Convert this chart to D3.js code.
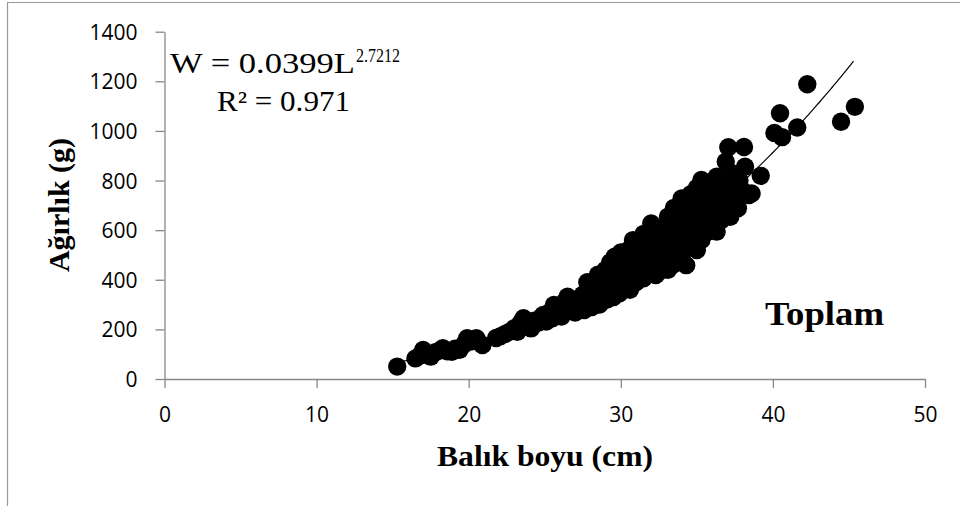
<!DOCTYPE html>
<html><head><meta charset="utf-8">
<script src="https://cdn.jsdelivr.net/npm/d3@7"></script>
<style>body{margin:0;background:#fff;} svg{display:block}</style>
</head><body><svg id="c" width="960" height="506"></svg>
<script>
// Balık boyu (cm)
const boyu = [
 15.3,16.5,16.8,17.0,17.2,17.5,17.8,18.1,18.3,18.6,18.9,19.1,19.4,19.7,19.9,20.2,20.5,20.9,
 21.8,22.1,22.4,22.7,23.0,23.2,23.4,23.6,23.9,24.1,24.3,24.6,24.8,
 24.9,25.1,25.3,25.5,25.6,25.8,26.0,26.1,26.3,26.5,26.6,26.8,27.0,27.1,27.3,27.5,27.6,
 27.8,27.9,28.0,28.1,28.3,28.4,28.5,28.6,28.8,28.9,29.0,29.1,29.2,29.3,29.4,29.5,29.5,
 29.6,29.7,29.8,29.9,30.0,30.0,30.1,30.2,30.3,30.4,30.5,30.6,30.6,30.7,30.8,30.8,30.9,31.0,31.1,31.2,31.2,31.3,31.4,31.5,31.5,31.6,
 31.7,31.8,31.9,32.0,32.0,32.1,32.2,32.3,32.4,32.5,32.6,32.7,32.8,32.9,33.0,33.1,33.1,33.2,33.3,33.4,33.5,33.5,33.6,
 33.7,33.8,33.9,34.0,34.0,34.1,34.2,34.3,34.4,34.4,34.5,34.6,34.7,34.8,34.9,35.0,35.0,35.1,35.2,35.3,35.3,35.4,35.5,
 35.6,35.7,35.8,35.9,36.0,36.1,36.2,36.3,36.3,36.4,36.5,36.6,36.7,36.8,36.9,37.0,37.07,37.1,37.2,37.3,37.5,37.6,37.7,37.8,38.1,38.17,38.43,38.0,38.6,
 39.2,40.1,40.6,40.47,41.6,42.26,44.48,45.39
];
// Ağırlık (g)
const agirlik = [
 50,83,95,117,100,90,108,115,124,112,110,122,118,140,164,152,164,137,
 165,173,182,191,205,190,225,245,215,204,235,228,250,
 258,232,268,245,298,262,285,252,310,332,275,300,268,320,290,340,278,
 390,315,355,290,380,330,420,300,365,400,440,320,380,470,350,415,330,
 493,380,455,345,510,420,370,475,440,395,520,460,360,420,560,490,440,390,535,470,420,505,445,585,406,480,
 545,460,430,627,510,570,480,419,545,460,610,515,440,575,490,654,440,610,535,460,690,575,500,
 640,545,600,728,480,670,570,459,700,620,530,745,650,580,700,770,520,620,680,802,560,730,650,
 590,770,700,620,790,740,660,815,594,700,770,640,735,800,876,700,934,760,654,830,750,700,688,800,935,856,742,760,748,
 819,992,975,1071,1014,1188,1037,1097
];
const xTicks = [0,10,20,30,40,50];
const yTicks = [0,200,400,600,800,1000,1200,1400];
const fitA = 0.0399, fitB = 2.7212;
const eqText = "W = 0.0399L", eqExp = "2.7212", r2Text = "R² = 0.971";
const xTitle = "Balık boyu (cm)", yTitle = "Ağırlık (g)", groupLabel = "Toplam";

const svg = d3.select("#c");
const axisCol = "#888";
const x = d3.scaleLinear().domain([0,50]).range([164.5,925]);
const y = d3.scaleLinear().domain([0,1400]).range([379,31.7]);

// outer frame
svg.append("path").attr("d","M7.5,506 V2.5 H960").attr("fill","none").attr("stroke","#999").attr("stroke-width",1.2);

// axes
const xa = svg.append("g").attr("transform","translate(0,379)")
  .call(d3.axisBottom(x).tickValues(xTicks).tickSize(9).tickSizeOuter(0).tickFormat(d3.format("d")));
const ya = svg.append("g").attr("transform","translate(164.5,0)")
  .call(d3.axisLeft(y).tickValues(yTicks).tickSize(9).tickSizeOuter(0).tickFormat(d3.format("d")));
[xa,ya].forEach(g=>{
  g.selectAll("path,line").attr("stroke",axisCol).attr("stroke-width",1.3);
  g.selectAll("text").attr("fill","#000").style("font-family","'Open Sans', sans-serif").style("font-size","21px");
});
xa.selectAll("text").attr("y",43).attr("dy","0");
ya.selectAll("text").attr("x",-27).attr("dy","0.36em");

// trend line
const lx = d3.range(d3.min(boyu), d3.max(boyu)+0.001, 0.1);
svg.append("path").datum(lx)
  .attr("d", d3.line().x(d=>x(d)).y(d=>y(fitA*Math.pow(d,fitB))))
  .attr("fill","none").attr("stroke","#000").attr("stroke-width",1.2);

// points
svg.append("g").selectAll("circle").data(boyu.map((b,i)=>[b,agirlik[i]])).join("circle")
  .attr("cx",d=>x(d[0])).attr("cy",d=>y(d[1])).attr("r",9.2).attr("fill","#000");

// equation
const serif = "'Liberation Serif','Times New Roman',serif";
svg.append("text").attr("x",170).attr("y",73).style("font-family",serif).style("font-size","29px")
  .attr("textLength",185).attr("lengthAdjust","spacingAndGlyphs").text(eqText);
svg.append("text").attr("x",356).attr("y",62).style("font-family",serif).style("font-size","18px")
  .attr("textLength",44).attr("lengthAdjust","spacingAndGlyphs").text(eqExp);
svg.append("text").attr("x",217).attr("y",111).style("font-family",serif).style("font-size","29px")
  .attr("textLength",133).attr("lengthAdjust","spacingAndGlyphs").text(r2Text);

// group label
svg.append("text").attr("x",765).attr("y",325).style("font-family",serif).style("font-size","33px").style("font-weight","bold")
  .attr("textLength",119).attr("lengthAdjust","spacingAndGlyphs").text(groupLabel);

// axis titles
svg.append("text").attr("x",437).attr("y",466).style("font-family",serif).style("font-size","30px").style("font-weight","bold")
  .attr("textLength",216).attr("lengthAdjust","spacingAndGlyphs").text(xTitle);
svg.append("text").attr("transform","translate(69,205) rotate(-90)").attr("text-anchor","middle").style("font-family",serif).style("font-size","30px").style("font-weight","bold").text(yTitle);
</script></body></html>
